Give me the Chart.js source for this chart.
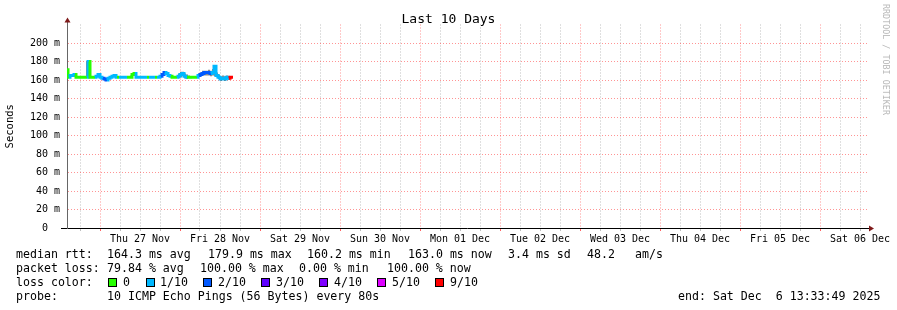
<!DOCTYPE html>
<html><head><meta charset="utf-8">
<script src="https://cdn.jsdelivr.net/npm/chart.js@4/dist/chart.umd.min.js"></script>
<style>
html,body{margin:0;padding:0;background:#fff;}
#wrap{position:relative;width:897px;height:310px;overflow:hidden;background:#fff;}
#c{position:absolute;left:0;top:0;}
.t{position:absolute;font-family:'DejaVu Sans Mono',monospace;font-size:11.6px;white-space:pre;color:#000;line-height:14px;}
.sw{position:absolute;width:7px;height:7px;border:1px solid #000;}
#title{position:absolute;left:0;width:897px;top:11px;text-align:center;font-family:'DejaVu Sans Mono',monospace;font-size:13px;line-height:16px;color:#000;}
#wm{position:absolute;left:891px;top:4px;transform:rotate(90deg);transform-origin:0 0;font-family:'DejaVu Sans Mono',monospace;font-size:8.4px;color:#b8b8b8;white-space:pre;line-height:10px;}
</style></head>
<body>
<div id="wrap">
<canvas id="c" width="897" height="310"></canvas>
<div id="title">Last 10 Days</div>
<div id="wm">RRDTOOL / TOBI OETIKER</div>
<div id="legend"></div>
</div>
<script>
// ---- data (hours since start of the 10-day window) ----
const hours = [0,0.6,1.2,1.8,2.4,3.0,3.6,4.2,4.8,5.4,
  6.0,6.6,7.2,7.8,8.4,9.0,9.6,10.2,10.8,11.4,
  12.0,12.6,13.2,13.8,14.4,15.0,15.6,16.2,16.8,17.4,
  18.0,18.6,19.2,19.8,20.4,21.0,21.6,22.2,22.8,23.4,
  24.0,24.6,25.2,25.8,26.4,27.0,27.6,28.2,28.8,29.4,
  30.0,30.6,31.2,31.8,32.4,33.0,33.6,34.2,34.8,35.4,
  36.0,36.6,37.2,37.8,38.4,39.0,39.6,40.2,40.8,41.4,
  42.0,42.6,43.2,43.8,44.4,45.0,45.6,46.2,46.8,47.4,
  48.0,48.6,49.2,49.8];
// median rtt in ms
const median = [171,163,165,165,166,163,163,163,163,163,
  163,180,163,163,163,164,166,163,162,161,
  160,162,163,164,165,163,163,163,163,163,
  163,163,163,166,167,163,163,163,163,163,
  163,163,163,163,163,163,163,164,166,168,
  167,165,164,163,163,163,164,166,167,164,
  163,163,163,163,163,163,165,166,167,168,
  168,168,167,168,175,165,163,161,162,161,
  163,162,163,163];
// lost pings out of 10
const lossCount = [1,0,1,1,1,0,0,0,0,0,
  0,1,0,0,0,1,1,1,1,2,
  2,1,1,1,1,1,0,1,1,1,
  1,0,0,0,0,1,1,1,1,1,
  1,0,1,1,1,0,1,1,2,2,
  1,1,1,0,0,0,1,1,1,1,
  1,0,0,0,0,0,1,2,2,2,
  2,2,2,1,1,1,1,1,1,1,
  1,1,9,9];
// smoke (spread of individual pings) in ms
const smokeHi = [172,165,166,165,166,163,163,163,163,163,
  180,181,163,163,163,164,167,163,162,161,
  160,162,163,164,165,163,163,163,163,163,
  163,163,165,166,167,163,163,163,163,163,
  163,163,163,163,163,163,163,164,166,169,
  167,165,164,163,163,163,167,169,169,167,
  166,165,164,163,163,164,167,168,170,170,
  170,171,170,172,176,168,166,164,165,164,
  165,164,164,163];
const smokeLo = [163,163,164,165,166,163,163,163,163,163,
  163,163,163,163,163,164,166,163,162,161,
  160,162,163,164,165,163,163,163,163,163,
  163,163,163,166,167,163,163,163,163,163,
  163,163,163,163,163,163,163,164,166,168,
  167,165,164,163,163,163,162,163,164,162,
  161,162,162,163,163,163,163,164,165,165,
  165,165,164,165,164,163,161,159,160,159,
  161,160,162,163];
const lossColors = {0:'#26ff00',1:'#00b8ff',2:'#0059ff',3:'#5e00ff',4:'#7e00ff',5:'#dd00ff',9:'#ff0000'};
const dayLabels = ['Thu 27 Nov','Fri 28 Nov','Sat 29 Nov','Sun 30 Nov','Mon 01 Dec','Tue 02 Dec','Wed 03 Dec','Thu 04 Dec','Fri 05 Dec','Sat 06 Dec'];
const firstMidnight = 9.9;   // hours from window start to first midnight
const spanHours = 240;
const yMax = 220;

// legend text items: [x, text]
const statRows = [
  [[16,'median rtt:'],[107,'164.3 ms avg'],[208,'179.9 ms max'],[307,'160.2 ms min'],[408,'163.0 ms now'],[508,'3.4 ms sd'],[587,'48.2'],[635,'am/s']],
  [[16,'packet loss:'],[107,'79.84 % avg'],[200,'100.00 % max'],[299,'0.00 % min'],[387,'100.00 % now']],
  [[16,'loss color:']],
  [[16,'probe:'],[107,'10 ICMP Echo Pings (56 Bytes) every 80s'],[678,'end: Sat Dec  6 13:33:49 2025']]
];
const lossLegend = [['0',0,108,123],['1/10',1,146,160],['2/10',2,203,218],['3/10',3,261,276],['4/10',4,319,334],['5/10',5,377,392],['9/10',9,435,450]];

// ---- legend (HTML text) ----
const lg = document.getElementById('legend');
function addText(x,y,s){const d=document.createElement('div');d.className='t';d.style.left=x+'px';d.style.top=y+'px';d.textContent=s;lg.appendChild(d);}
statRows.forEach((row,i)=>row.forEach(([x,s])=>addText(x,247+14*i,s)));
lossLegend.forEach(([lab,k,sx,tx])=>{
  const s=document.createElement('div');s.className='sw';s.style.left=sx+'px';s.style.top='278px';s.style.background=lossColors[k];lg.appendChild(s);
  addText(tx,275,lab);
});

// ---- tick positions ----
const gridHours=[];
for(let h=firstMidnight-6;h<=spanHours;h+=6){ if(h>=0) gridHours.push(h); }
function dayIndexOf(h){const k=(h-firstMidnight-12)/24;return Math.abs(k-Math.round(k))<1e-6?Math.round(k):-1;}
function isMidnight(h){const k=(h-firstMidnight)/24;return Math.abs(k-Math.round(k))<1e-6;}

const mono='DejaVu Sans Mono';
const arrows={id:'arrows',afterDraw(chart){
  const {ctx,chartArea:a}=chart;ctx.save();
  ctx.strokeStyle='#666';ctx.lineWidth=1;ctx.beginPath();ctx.moveTo(a.left+0.5,a.top);ctx.lineTo(a.left+0.5,a.top-3);ctx.stroke();
  ctx.strokeStyle='#000';ctx.beginPath();ctx.moveTo(a.right,a.bottom+0.5);ctx.lineTo(a.right+2,a.bottom+0.5);ctx.stroke();
  ctx.beginPath();ctx.moveTo(a.left-6,a.bottom+0.5);ctx.lineTo(a.left,a.bottom+0.5);ctx.stroke();
  ctx.fillStyle='#7f1a1a';
  ctx.beginPath();ctx.moveTo(a.left+0.5,a.top-7);ctx.lineTo(a.left-2.5,a.top-2);ctx.lineTo(a.left+3.5,a.top-2);ctx.closePath();ctx.fill();
  ctx.beginPath();ctx.moveTo(a.right+7,a.bottom+0.5);ctx.lineTo(a.right+2,a.bottom-2.5);ctx.lineTo(a.right+2,a.bottom+3.5);ctx.closePath();ctx.fill();
  ctx.restore();
}};

const red='rgba(255,60,60,0.55)', gray='rgba(0,0,0,0.25)', none='rgba(0,0,0,0)';
new Chart(document.getElementById('c'),{
  type:'line',
  data:{datasets:[
    {data:hours.map((h,i)=>({x:h,y:median[i]})),borderWidth:3,pointRadius:0,stepped:'middle',fill:false,borderCapStyle:'butt',
     segment:{borderColor:c=>lossColors[lossCount[c.p1DataIndex]]},borderColor:lossColors[0]},
    {data:hours.map((h,i)=>({x:h,y:smokeLo[i]})),borderWidth:0,pointRadius:0,stepped:'middle',fill:false,borderColor:none},
    {data:hours.map((h,i)=>({x:h,y:smokeHi[i]})),borderWidth:0,pointRadius:0,stepped:'middle',fill:'-1',backgroundColor:'rgba(60,60,60,0.6)',borderColor:none}
  ]},
  options:{
    responsive:false,animation:false,
    layout:{padding:{top:24.5,right:30,left:0,bottom:0}},
    plugins:{legend:{display:false},tooltip:{enabled:false},title:{display:false}},
    scales:{
      x:{type:'linear',min:0,max:spanHours,
        afterBuildTicks:s=>{s.ticks=gridHours.map(v=>({value:v}));},
        afterFit:s=>{s.height=82;},
        ticks:{autoSkip:false,maxRotation:0,minRotation:0,padding:2,color:'#000',font:{family:mono,size:10},
          callback:v=>{const k=dayIndexOf(v);return k>=0&&k<dayLabels.length?dayLabels[k]:'';}},
        grid:{color:c=>isMidnight(c.tick.value)?red:gray,drawTicks:true,tickLength:3,
          tickColor:c=>isMidnight(c.tick.value)?'rgba(255,60,60,0.8)':gray},
        border:{display:true,color:'#000',width:1,dash:[1,2]}
      },
      y:{type:'linear',min:0,max:yMax,
        afterFit:s=>{s.width=67;},
        ticks:{stepSize:10,padding:4,color:'#000',font:{family:mono,size:10},
          callback:v=>(v%20===0&&v<yMax)?(v===0?'0  ':v+' m'):''},
        grid:{color:c=>(c.tick.value===0||c.tick.value>=yMax)?none:(c.tick.value%20===0?red:gray),
          drawTicks:true,tickLength:3,tickColor:none},
        border:{display:true,color:'#666',width:1,dash:[1,2]},
        title:{display:true,text:'Seconds',color:'#000',font:{family:mono,size:10.5},padding:{top:4,bottom:0}}
      }
    }
  },
  plugins:[arrows]
});
</script>
</body></html>
